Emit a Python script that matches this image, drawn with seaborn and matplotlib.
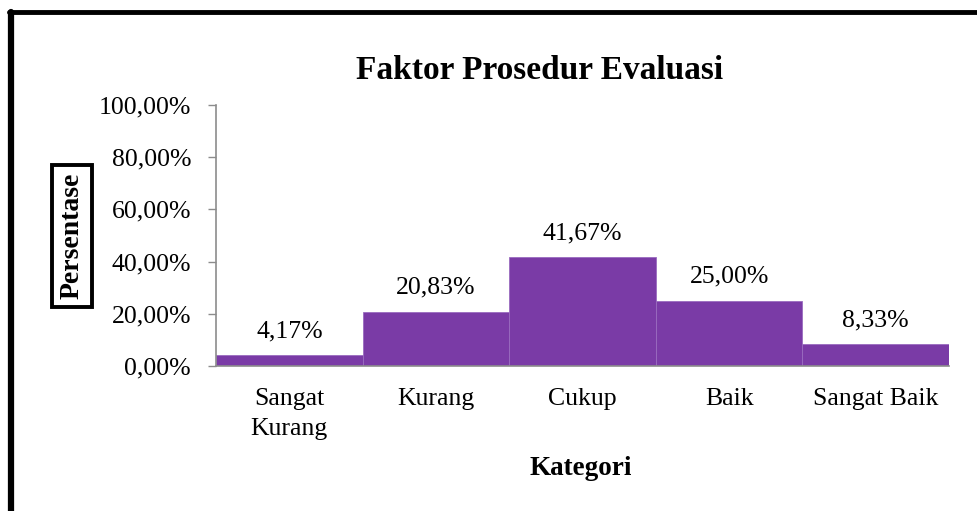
import seaborn as sns
import matplotlib.pyplot as plt
import pandas as pd

categories = ["Sangat\nKurang", "Kurang", "Cukup", "Baik", "Sangat Baik"]
percentages = [4.17, 20.83, 41.67, 25.00, 8.33]
y_ticks = [0, 20, 40, 60, 80, 100]

df = pd.DataFrame({"Kategori": categories, "Persentase": percentages})

sns.set_style("white")
plt.rcParams['font.family'] = ['Liberation Serif', 'DejaVu Serif']
plt.rcParams['text.color'] = 'black'

fig = plt.figure(figsize=(9.77, 5.11), dpi=100)
ax = fig.add_axes([0.2211, 0.2838, 0.7503, 0.5108])

sns.barplot(data=df, x="Kategori", y="Persentase", ax=ax, color="#7A3BA6",
            saturation=1, width=1.0, edgecolor="#9A6CC0", linewidth=0.6)

ax.set_ylim(0, 100)
ax.set_xlim(-0.5, len(categories) - 0.5)
ax.set_yticks(y_ticks)
ax.set_yticklabels([f"{t:.2f}%".replace(".", ",") for t in y_ticks])
ax.tick_params(axis="y", left=True, length=6, width=1, color="#8c8c8c", pad=12,
               labelsize=18.5, labelcolor="black")
ax.tick_params(axis="x", bottom=False, labelsize=18.5, labelcolor="black", pad=12.5)
for lbl in ax.get_xticklabels():
    lbl.set_linespacing(1.45)

for side in ["top", "right"]:
    ax.spines[side].set_visible(False)
for side in ["left", "bottom"]:
    ax.spines[side].set_color("#8c8c8c")
    ax.spines[side].set_linewidth(1.2)

# value labels above bars
for i, v in enumerate(percentages):
    ax.text(i, v + 9.2, f"{v:.2f}%".replace(".", ","), ha="center", va="center", fontsize=18.5)

ax.set_xlabel("")
ax.set_ylabel("")
fig.text(0.5525, 0.863, "Faktor Prosedur Evaluasi", ha="center", va="center",
         fontsize=24, fontweight="bold")
fig.text(0.5947, 0.0841, "Kategori", ha="center", va="center", fontsize=19.5, fontweight="bold")
fig.text(0.0737, 0.538, "Persentase", ha="center", va="center", rotation=90,
         fontsize=20, fontweight="bold",
         bbox=dict(boxstyle="square,pad=0.28", facecolor="white", edgecolor="black", linewidth=2.8))

# outer frame (left and top only visible)
fig.add_artist(plt.Line2D([0.0117, 0.0117], [0, 0.9765], color="black", linewidth=4.5))
fig.add_artist(plt.Line2D([0.0097, 1.0], [0.9765, 0.9765], color="black", linewidth=3.5))

plt.savefig("out.png", dpi=100)
plt.close()
